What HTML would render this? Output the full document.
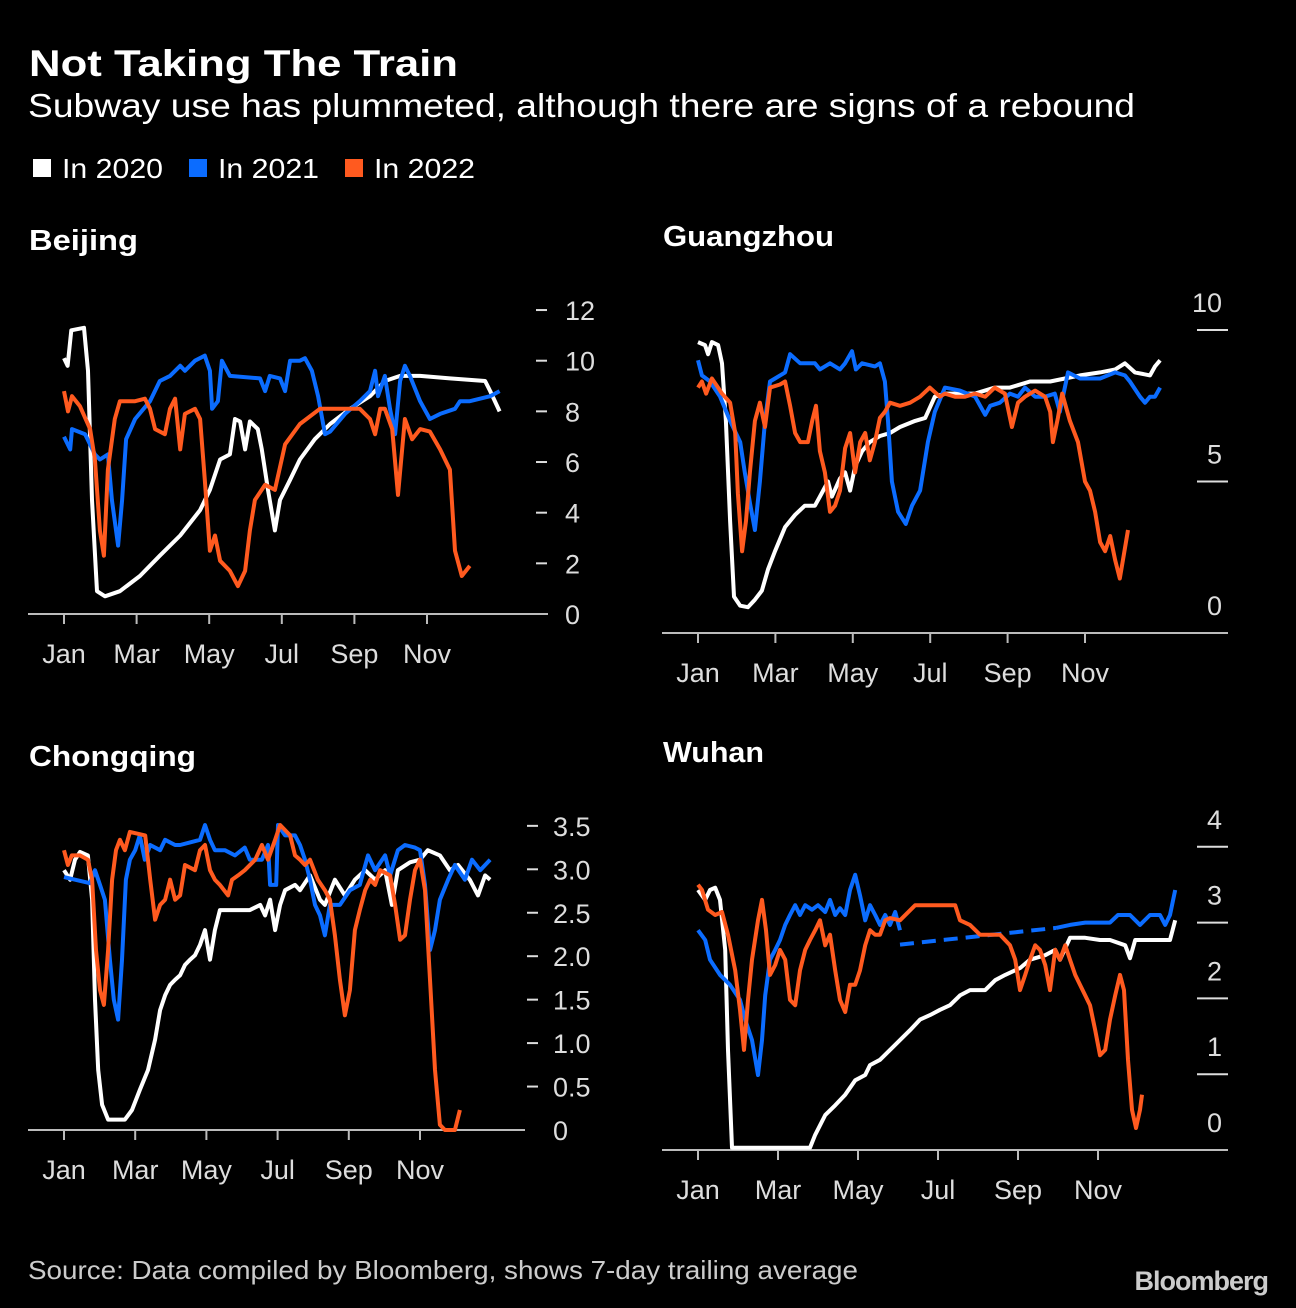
<!DOCTYPE html>
<html><head><meta charset="utf-8"><style>
html,body{margin:0;padding:0;background:#000;}
body{width:1296px;height:1308px;overflow:hidden;font-family:"Liberation Sans",sans-serif;color:#fff;}
svg{display:block}
</style></head><body>
<svg id="chart" width="1296" height="1308" viewBox="0 0 1296 1308" xmlns="http://www.w3.org/2000/svg" font-family="Liberation Sans, sans-serif">
<rect width="1296" height="1308" fill="#000"/>
<text x="29" y="76" fill="#fff" font-size="37" font-weight="bold" textLength="429" lengthAdjust="spacingAndGlyphs">Not Taking The Train</text>
<text x="28" y="117" fill="#fff" font-size="33" textLength="1107" lengthAdjust="spacingAndGlyphs">Subway use has plummeted, although there are signs of a rebound</text>
<g>
<rect x="33" y="159" width="18" height="18" fill="#fff"/>
<text x="62" y="178" fill="#fff" font-size="28" textLength="101" lengthAdjust="spacingAndGlyphs">In 2020</text>
<rect x="189" y="159" width="18" height="18" fill="#0b6cff"/>
<text x="218" y="178" fill="#fff" font-size="28" textLength="101" lengthAdjust="spacingAndGlyphs">In 2021</text>
<rect x="345" y="159" width="18" height="18" fill="#ff5a1f"/>
<text x="374" y="178" fill="#fff" font-size="28" textLength="101" lengthAdjust="spacingAndGlyphs">In 2022</text>
</g>
<text x="28" y="1279" fill="#ccc" font-size="26" textLength="830" lengthAdjust="spacingAndGlyphs">Source: Data compiled by Bloomberg, shows 7-day trailing average</text>
<text x="1268" y="1290" fill="#ccc" font-size="27" font-weight="bold" text-anchor="end" letter-spacing="-1">Bloomberg</text>
</svg>
<script>
const monthLabels = ["Jan","Mar","May","Jul","Sep","Nov"];
const monthTicks = [0,2,4,6,8,10];
const beijingTicks = [0,2,4,6,8,10,12];
const guangzhouTicks = [0,5,10];
const chongqingTicks = [0,0.5,1,1.5,2,2.5,3,3.5];
const wuhanTicks = [0,1,2,3,4];

const beijing2020 = [[0,10.1],[.1,9.8],[.2,11.2],[.55,11.3],[.66,9.6],[.77,4.5],[.91,0.9],[1.13,0.7],[1.54,0.9],[2.09,1.5],[2.64,2.3],[3.2,3.1],[3.75,4.1],[4.02,4.9],[4.3,6.1],[4.57,6.3],[4.71,7.7],[4.85,7.6],[4.99,6.5],[5.12,7.6],[5.34,7.3],[5.45,6.5],[5.62,4.9],[5.81,3.3],[5.95,4.5],[6.23,5.3],[6.5,6.1],[6.91,6.9],[7.33,7.5],[7.88,8.1],[8.43,8.6],[8.84,9.2],[9.26,9.4],[9.81,9.4],[10.63,9.3],[11.6,9.2],[11.74,8.8],[12,8.0]];
const beijing2021 = [[0,7.0],[.17,6.5],[.22,7.3],[.58,7.1],[.85,6.3],[.99,6.1],[1.21,6.3],[1.32,4.5],[1.49,2.7],[1.6,4.5],[1.71,6.9],[1.96,7.7],[2.37,8.4],[2.64,9.2],[2.92,9.4],[3.2,9.8],[3.33,9.6],[3.61,10.0],[3.88,10.2],[4.02,9.6],[4.08,8.1],[4.24,8.4],[4.35,10.0],[4.57,9.4],[5.4,9.3],[5.54,8.8],[5.67,9.4],[5.95,9.3],[6.09,8.8],[6.23,10.0],[6.5,10.0],[6.64,10.1],[6.83,9.6],[7.0,8.6],[7.19,7.1],[7.33,7.2],[7.74,7.9],[8.15,8.4],[8.43,8.8],[8.57,9.6],[8.65,8.6],[8.84,9.4],[8.98,8.1],[9.12,7.1],[9.26,9.2],[9.39,9.8],[9.53,9.4],[9.81,8.4],[10.08,7.7],[10.36,7.9],[10.77,8.1],[10.91,8.4],[11.18,8.4],[11.46,8.5],[11.74,8.6],[12,8.8]];
const beijing2022 = [[0,8.8],[.11,8.0],[.22,8.6],[.44,8.2],[.72,7.3],[.85,6.1],[.99,3.3],[1.1,2.3],[1.21,5.7],[1.4,7.7],[1.54,8.4],[1.96,8.4],[2.23,8.5],[2.37,8.1],[2.51,7.3],[2.78,7.1],[2.92,8.1],[3.06,8.5],[3.2,6.5],[3.33,7.9],[3.61,8.1],[3.75,7.7],[3.88,5.3],[4.02,2.5],[4.16,3.1],[4.3,2.1],[4.57,1.7],[4.79,1.1],[4.99,1.7],[5.12,3.3],[5.26,4.5],[5.54,5.1],[5.81,4.9],[6.09,6.7],[6.5,7.5],[7.05,8.1],[8.15,8.1],[8.43,7.7],[8.57,7.1],[8.71,8.1],[8.84,8.1],[9.04,7.3],[9.2,4.7],[9.39,7.7],[9.59,6.9],[9.81,7.3],[10.08,7.2],[10.36,6.5],[10.63,5.7],[10.77,2.5],[10.96,1.5],[11.18,1.9]];

const guangzhou2020 = [[0,9.6],[.18,9.5],[.26,9.2],[.36,9.6],[.52,9.5],[.62,8.9],[.72,7.0],[.83,3.7],[.93,1.2],[1.09,0.9],[1.29,0.85],[1.47,1.1],[1.65,1.4],[1.81,2.1],[1.99,2.7],[2.25,3.5],[2.51,3.9],[2.76,4.2],[3.02,4.2],[3.15,4.5],[3.36,5.0],[3.46,4.5],[3.67,5.1],[3.8,5.3],[3.93,4.7],[4.06,5.5],[4.24,6.0],[4.44,6.3],[4.7,6.5],[4.96,6.6],[5.22,6.8],[5.61,7.0],[5.87,7.1],[6.12,7.8],[6.38,7.9],[6.77,7.9],[7.16,7.9],[7.67,8.1],[8.06,8.1],[8.58,8.3],[9.1,8.3],[9.48,8.4],[9.87,8.5],[10.39,8.6],[10.78,8.7],[11.03,8.9],[11.29,8.6],[11.68,8.5],[11.81,8.8],[11.94,9.0]];
const guangzhou2021 = [[0,9.0],[.1,8.5],[.31,8.3],[.57,7.8],[.83,7.0],[1.09,6.3],[1.21,5.3],[1.34,4.3],[1.47,3.4],[1.6,5.0],[1.73,7.0],[1.86,8.3],[1.99,8.4],[2.25,8.6],[2.38,9.2],[2.64,8.9],[3.02,8.9],[3.15,8.7],[3.41,8.9],[3.67,8.7],[3.8,8.9],[3.98,9.3],[4.08,8.7],[4.24,8.9],[4.57,8.8],[4.7,8.9],[4.83,8.3],[4.91,7.0],[5.01,5.0],[5.17,4.0],[5.37,3.6],[5.53,4.2],[5.74,4.7],[5.94,6.3],[6.12,7.3],[6.38,8.1],[6.77,8.0],[7.16,7.8],[7.42,7.2],[7.55,7.5],[7.8,7.6],[8.06,7.9],[8.27,7.8],[8.45,8.1],[8.71,7.8],[8.97,7.8],[9.22,7.9],[9.35,7.3],[9.56,8.6],[9.87,8.4],[10.39,8.4],[10.78,8.6],[11.03,8.5],[11.16,8.3],[11.42,7.8],[11.55,7.6],[11.68,7.8],[11.81,7.8],[11.94,8.1]];
const guangzhou2022 = [[0,8.1],[.1,8.3],[.21,7.9],[.36,8.4],[.52,8.1],[.62,7.9],[.83,7.6],[.96,6.6],[1.03,4.6],[1.14,2.7],[1.24,3.7],[1.34,5.3],[1.47,7.0],[1.6,7.6],[1.73,6.8],[1.86,8.1],[2.12,8.2],[2.25,8.3],[2.38,7.5],[2.51,6.6],[2.64,6.3],[2.84,6.3],[2.95,7.0],[3.05,7.5],[3.15,6.0],[3.28,5.3],[3.41,4.0],[3.54,4.2],[3.67,4.7],[3.8,6.1],[3.93,6.6],[4.06,5.3],[4.19,6.3],[4.32,6.6],[4.44,5.7],[4.57,6.3],[4.7,7.1],[4.83,7.3],[4.96,7.6],[5.22,7.5],[5.48,7.6],[5.74,7.8],[5.99,8.1],[6.25,7.8],[6.38,7.9],[6.64,7.8],[6.9,7.8],[7.16,7.9],[7.42,7.8],[7.67,8.1],[7.93,7.9],[8.11,6.8],[8.27,7.6],[8.45,7.8],[8.71,8.0],[8.97,7.8],[9.1,7.3],[9.17,6.3],[9.3,7.1],[9.41,7.9],[9.61,7.0],[9.82,6.3],[10.0,5.0],[10.13,4.7],[10.26,4.0],[10.39,3.0],[10.52,2.7],[10.65,3.2],[10.78,2.4],[10.9,1.8],[10.98,2.4],[11.11,3.4]];

const chongqing2020 = [[0,2.99],[.17,2.88],[.31,3.11],[.45,3.2],[.67,3.16],[.79,2.65],[.87,1.5],[.96,0.69],[1.07,0.29],[1.24,0.12],[1.71,0.12],[1.91,0.23],[2.13,0.46],[2.36,0.69],[2.56,1.04],[2.7,1.38],[2.84,1.55],[2.98,1.67],[3.12,1.73],[3.26,1.78],[3.4,1.9],[3.54,1.96],[3.68,2.01],[3.82,2.13],[3.96,2.3],[4.1,1.96],[4.24,2.3],[4.38,2.53],[5.22,2.53],[5.51,2.59],[5.65,2.47],[5.79,2.65],[5.93,2.3],[6.07,2.59],[6.21,2.76],[6.49,2.82],[6.63,2.76],[6.91,2.93],[7.19,2.65],[7.33,2.59],[7.61,2.88],[7.89,2.7],[8.17,2.88],[8.46,2.99],[8.74,2.88],[9.02,2.99],[9.21,2.59],[9.38,2.99],[9.72,3.08],[10.0,3.11],[10.22,3.22],[10.56,3.16],[10.84,2.99],[11.07,3.05],[11.4,2.88],[11.63,2.7],[11.83,2.93],[11.97,2.88]];
const chongqing2021 = [[0,2.91],[.31,2.88],[.73,2.84],[.87,2.99],[1.01,2.82],[1.15,2.65],[1.29,1.96],[1.4,1.5],[1.52,1.27],[1.63,1.96],[1.74,2.88],[1.85,3.11],[2.0,3.22],[2.13,3.39],[2.27,3.11],[2.42,3.28],[2.7,3.22],[2.84,3.34],[3.12,3.28],[3.26,3.28],[3.54,3.31],[3.82,3.34],[3.96,3.51],[4.1,3.34],[4.24,3.22],[4.52,3.22],[4.8,3.16],[5.08,3.25],[5.22,3.11],[5.56,3.11],[5.73,3.28],[5.79,2.82],[5.96,2.82],[6.01,3.51],[6.21,3.39],[6.49,3.39],[6.63,3.28],[6.77,3.11],[6.91,2.88],[7.05,2.59],[7.19,2.47],[7.33,2.24],[7.47,2.59],[7.75,2.59],[8.03,2.76],[8.31,2.82],[8.54,3.16],[8.74,2.99],[9.02,3.16],[9.16,2.93],[9.38,3.22],[9.58,3.28],[9.86,3.25],[10.0,3.22],[10.14,2.82],[10.28,2.07],[10.42,2.3],[10.56,2.65],[10.79,2.88],[10.98,3.05],[11.26,2.88],[11.46,3.11],[11.69,2.99],[11.97,3.11]];
const chongqing2022 = [[0,3.22],[.11,3.05],[.22,3.16],[.45,3.16],[.67,3.11],[.79,2.88],[.9,2.07],[1.01,1.61],[1.12,1.44],[1.24,2.07],[1.35,2.88],[1.46,3.22],[1.57,3.34],[1.71,3.22],[1.85,3.43],[2.28,3.39],[2.42,2.88],[2.56,2.42],[2.7,2.59],[2.84,2.65],[2.98,2.88],[3.12,2.65],[3.26,2.7],[3.4,3.05],[3.68,2.99],[3.82,3.22],[3.96,3.28],[4.1,2.99],[4.24,2.88],[4.38,2.82],[4.61,2.7],[4.72,2.88],[4.89,2.93],[5.08,2.99],[5.37,3.11],[5.56,3.28],[5.73,3.11],[5.93,3.34],[6.07,3.51],[6.35,3.39],[6.49,3.16],[6.63,3.11],[6.77,3.05],[6.91,3.11],[7.13,2.88],[7.33,2.76],[7.47,2.65],[7.61,2.24],[7.75,1.73],[7.89,1.32],[8.03,1.61],[8.17,2.3],[8.31,2.53],[8.46,2.76],[8.6,2.88],[8.74,2.82],[8.88,2.99],[9.16,2.93],[9.3,2.59],[9.44,2.19],[9.58,2.24],[9.72,2.65],[9.86,2.99],[10.0,3.11],[10.14,2.76],[10.28,1.73],[10.42,0.69],[10.56,0.06],[10.7,0],[10.98,0],[11.12,0.23]];

const wuhan2020 = [[0,3.43],[.18,3.3],[.3,3.43],[.43,3.46],[.55,3.3],[.68,2.64],[.75,1.32],[.85,0.03],[2.8,0.03],[2.93,0.2],[3.18,0.46],[3.43,0.59],[3.68,0.73],[3.93,0.92],[4.18,0.99],[4.3,1.12],[4.55,1.19],[4.8,1.32],[5.05,1.45],[5.3,1.58],[5.55,1.72],[5.8,1.78],[6.05,1.85],[6.3,1.91],[6.55,2.04],[6.8,2.11],[7.18,2.11],[7.43,2.24],[7.68,2.31],[8.05,2.4],[8.3,2.51],[8.68,2.57],[8.93,2.64],[9.05,2.51],[9.3,2.8],[9.68,2.8],[10.05,2.77],[10.3,2.77],[10.68,2.7],[10.8,2.53],[10.93,2.77],[11.3,2.77],[11.8,2.77],[11.93,3.03]];
const wuhan2021 = [[0,2.9],[.18,2.77],[.3,2.51],[.55,2.31],[.8,2.18],[1.05,1.98],[1.18,1.72],[1.35,1.45],[1.5,0.99],[1.6,1.45],[1.68,2.04],[1.8,2.51],[1.93,2.64],[2.05,2.77],[2.18,2.97],[2.3,3.1],[2.43,3.23],[2.55,3.1],[2.68,3.23],[2.85,3.17],[3.0,3.23],[3.18,3.14],[3.3,3.3],[3.43,3.1],[3.55,3.19],[3.68,3.1],[3.8,3.43],[3.93,3.63],[4.05,3.36],[4.18,3.03],[4.3,3.23],[4.43,3.1],[4.55,2.97],[4.68,3.1],[4.8,2.97],[4.93,3.14],[5.05,2.9]];
const wuhan2021Gap = [[5.05,2.71],[8.95,2.93]];
const wuhan2021Late = [[8.95,2.93],[9.3,2.97],[9.68,3.0],[10.05,3.0],[10.3,3.0],[10.5,3.1],[10.8,3.1],[11.05,2.97],[11.3,3.1],[11.55,3.1],[11.68,2.97],[11.8,3.1],[11.93,3.43]];
const wuhan2022 = [[0,3.5],[.1,3.43],[.25,3.17],[.43,3.1],[.6,3.14],[.75,2.84],[.93,2.37],[1.05,1.85],[1.15,1.32],[1.25,1.98],[1.35,2.51],[1.5,3.03],[1.6,3.3],[1.7,2.9],[1.8,2.31],[1.93,2.44],[2.05,2.64],[2.18,2.51],[2.3,1.98],[2.43,1.91],[2.55,2.37],[2.68,2.64],[2.8,2.77],[2.93,2.9],[3.05,3.03],[3.18,2.7],[3.3,2.84],[3.43,2.37],[3.55,1.98],[3.68,1.82],[3.8,2.18],[3.93,2.18],[4.05,2.37],[4.18,2.7],[4.3,2.9],[4.43,2.84],[4.55,2.84],[4.68,3.03],[4.8,3.06],[5.05,3.03],[5.43,3.23],[5.8,3.23],[6.43,3.23],[6.55,3.03],[6.8,2.97],[7.05,2.84],[7.55,2.84],[7.8,2.7],[7.93,2.51],[8.05,2.11],[8.18,2.31],[8.3,2.51],[8.43,2.7],[8.55,2.64],[8.68,2.44],[8.8,2.11],[8.93,2.64],[9.05,2.51],[9.18,2.7],[9.3,2.51],[9.43,2.31],[9.55,2.18],[9.68,2.04],[9.8,1.91],[9.93,1.58],[10.05,1.25],[10.18,1.32],[10.3,1.72],[10.43,2.04],[10.55,2.31],[10.65,2.11],[10.75,1.19],[10.85,0.53],[10.95,0.29],[11.05,0.53],[11.1,0.73]];

const C20 = "#ffffff", C21 = "#0b6cff", C22 = "#ff5a1f";
const NS = "http://www.w3.org/2000/svg";
const svg = document.getElementById('chart');

function mk(tag, attrs, parent){
  const e = document.createElementNS(NS, tag);
  for (const k in attrs) e.setAttribute(k, attrs[k]);
  parent.appendChild(e);
  return e;
}

function panel(cfg){
  const g = mk('g', {}, svg);
  
  
  const xs = m => cfg.x0 + m * cfg.ppm;
  const ys = v => cfg.axisY - v * cfg.ppu;
  const t = mk('text', {x: cfg.left + 1, y: cfg.titleY, fill:'#fff', 'font-size':29, 'font-weight':'bold', textLength: cfg.titleLen, lengthAdjust:'spacingAndGlyphs'}, g);
  t.textContent = cfg.title;
  
  
  const ax = mk('line', {x1: cfg.left, x2: cfg.right, y1: cfg.axisY, y2: cfg.axisY, stroke:'#bbb', 'stroke-width':2}, g);
  
  
  monthTicks.forEach((m, i) => {
    const tk = mk('line', {x1: xs(m), x2: xs(m), y1: cfg.axisY, y2: cfg.axisY + 10, stroke:'#bbb', 'stroke-width':2}, g);
    
    
    const lb = mk('text', {x: xs(m), y: cfg.axisY + 49, fill:'#ddd', 'font-size':27, 'text-anchor':'middle'}, g);
    lb.textContent = monthLabels[i];
    
    
  });
  cfg.ticks.forEach(v => {
    const y = ys(v);
    const txt = cfg.fmt(v);
    if (cfg.style === 'dash') {
      if (v !== 0) {
        const d = mk('line', {x1: cfg.dashX, x2: cfg.dashX + 11, y1: y, y2: y, stroke:'#ddd', 'stroke-width':2}, g);
        
        
      }
      const lb = mk('text', {x: cfg.labelX, y: y + 10, fill:'#ddd', 'font-size':27}, g);
      lb.textContent = txt;
      
      
    } else {
      if (v !== 0) {
        const d = mk('line', {x1: cfg.right - 31, x2: cfg.right, y1: y, y2: y, stroke:'#ddd', 'stroke-width':2}, g);
        
        
      }
      const lb = mk('text', {x: cfg.right - 6, y: y - 18, fill:'#ddd', 'font-size':27, 'text-anchor':'end'}, g);
      lb.textContent = txt;
      
      
    }
  });
  cfg.series.forEach(s => {
    const d = s.data.map((p, i) => (i ? 'L' : 'M') + xs(p[0]).toFixed(1) + ',' + ys(p[1]).toFixed(1)).join('');
    const attrs = {d: d, fill:'none', stroke: s.color, 'stroke-width':4, 'stroke-linejoin':'round', 'stroke-linecap':'butt'};
    if (s.dash) attrs['stroke-dasharray'] = '14,8';
    const p = mk('path', attrs, g);
    
    
  });
}

panel({name:'beijing', title:'Beijing', titleY:250, titleLen:109, left:28, right:548, x0:64, ppm:36.3, axisY:614, ppu:25.33,
  ticks:beijingTicks, fmt:v=>String(v), style:'dash', dashX:536, labelX:565,
  series:[{name:'beijing-2020-line', data:beijing2020, color:C20},{name:'beijing-2021-line', data:beijing2021, color:C21},{name:'beijing-2022-line', data:beijing2022, color:C22}]});
panel({name:'guangzhou', title:'Guangzhou', titleY:246, titleLen:171, left:662, right:1228, x0:698, ppm:38.7, axisY:633, ppu:30.3,
  ticks:guangzhouTicks, fmt:v=>String(v), style:'line',
  series:[{name:'guangzhou-2020-line', data:guangzhou2020, color:C20},{name:'guangzhou-2021-line', data:guangzhou2021, color:C21},{name:'guangzhou-2022-line', data:guangzhou2022, color:C22}]});
panel({name:'chongqing', title:'Chongqing', titleY:766, titleLen:167, left:28, right:525, x0:64, ppm:35.6, axisY:1130, ppu:86.9,
  ticks:chongqingTicks, fmt:v=>v===0?'0':v.toFixed(1), style:'dash', dashX:527, labelX:553,
  series:[{name:'chongqing-2020-line', data:chongqing2020, color:C20},{name:'chongqing-2021-line', data:chongqing2021, color:C21},{name:'chongqing-2022-line', data:chongqing2022, color:C22}]});
panel({name:'wuhan', title:'Wuhan', titleY:762, titleLen:101, left:662, right:1228, x0:698, ppm:40, axisY:1150, ppu:75.8,
  ticks:wuhanTicks, fmt:v=>String(v), style:'line',
  series:[{name:'wuhan-2020-line', data:wuhan2020, color:C20},{name:'wuhan-2021-line', data:wuhan2021, color:C21},{name:'wuhan-2021-estimated-line', data:wuhan2021Gap, color:C21, dash:true},{name:'wuhan-2021-late-line', data:wuhan2021Late, color:C21},{name:'wuhan-2022-line', data:wuhan2022, color:C22}]});
</script>
</body></html>
